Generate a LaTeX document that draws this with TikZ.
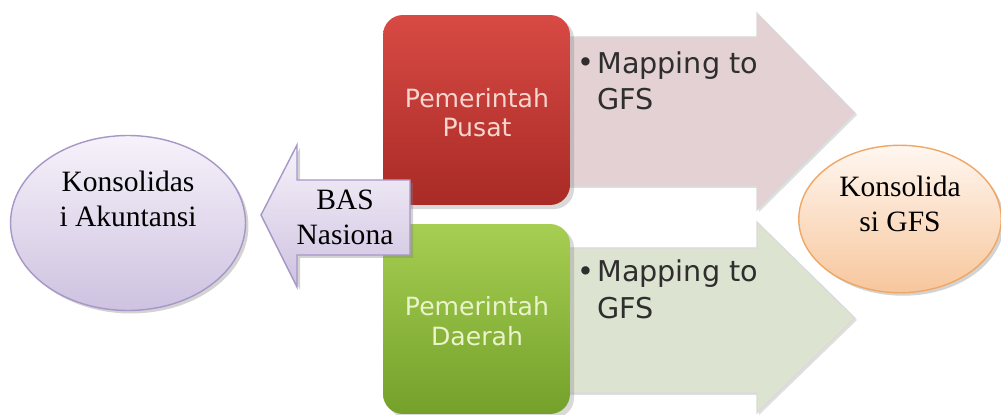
\documentclass[tikz,border=0pt]{standalone}
\usepackage{fontspec}
\setmainfont{Liberation Serif}
\newfontfamily\boxfont{DejaVu Sans}
\usetikzlibrary{positioning, shadows, shapes.geometric}
\definecolor{lavtop}{HTML}{F6F2FA}
\definecolor{lavbot}{HTML}{CEC2E0}
\definecolor{lavline}{HTML}{A797C6}
\definecolor{peachtop}{HTML}{FFF7F0}
\definecolor{peachbot}{HTML}{F7C69C}
\definecolor{peachline}{HTML}{F0A766}
\definecolor{redtop}{HTML}{D84A44}
\definecolor{redbot}{HTML}{A92A26}
\definecolor{redtxt}{HTML}{F6D6CE}
\definecolor{greentop}{HTML}{A6CE52}
\definecolor{greenbot}{HTML}{74A12A}
\definecolor{greentxt}{HTML}{EBF3CB}
\definecolor{pinkarrow}{HTML}{E3D1D3}
\definecolor{sagearrow}{HTML}{DCE3D1}
\definecolor{bulltxt}{HTML}{2E2E2E}

\begin{document}
\begin{tikzpicture}[x=0.02cm, y=-0.02cm,
    oval/.style={ellipse, draw, thick, drop shadow={opacity=0.35, shadow xshift=0.06cm, shadow yshift=-0.06cm}},
    levelbox/.style={rectangle, rounded corners=0.4cm, minimum width=3.74cm, minimum height=3.8cm, drop shadow={opacity=0.3}},
    bigarrow/.style={draw=white!85!black, line width=0.6pt, drop shadow={opacity=0.25, shadow xshift=0.04cm, shadow yshift=-0.04cm}},
    serif/.style={font=\fontsize{16.8}{20}\selectfont, align=center, anchor=base},
    boxtext/.style={font=\boxfont\fontsize{14.3}{17}\selectfont, align=center, anchor=base},
    bultext/.style={font=\boxfont\fontsize{16.3}{21}\selectfont, text=bulltxt, align=left, anchor=base west, inner sep=0pt}]

    \useasboundingbox (0,0) rectangle (1001,415);

    % Big arrows behind the level boxes
    \draw[bigarrow, fill=pinkarrow] (540,37) -- (757,37) -- (757,13) -- (855,113) -- (757,210) -- (757,186) -- (540,186) -- cycle;
    \draw[bigarrow, fill=sagearrow] (540,248) -- (757,248) -- (757,222) -- (855,318) -- (757,413) -- (757,393) -- (540,393) -- cycle;

    % Government levels (text anchored on last line)
    \node[levelbox, top color=redtop, bottom color=redbot] (pusat) at (476.5,110) {};
    \node[boxtext, text=redtxt] (pusattxt) at (477,137) {Pemerintah\\Pusat};

    \node[levelbox, top color=greentop, bottom color=greenbot] (daerah) at (476.5,319) {};
    \node[boxtext, text=greentxt] (daerahtxt) at (477,345) {Pemerintah\\Daerah};

    % Bullet texts on the arrows
    \node[bultext] (pusatbul) at (577,73) {\textbullet};
    \node[bultext] (pusatmap) at (597,110) {Mapping to\\GFS};
    \node[bultext] (daerahbul) at (577,282) {\textbullet};
    \node[bultext] (daerahmap) at (597,318) {Mapping to\\GFS};

    % BAS arrow pointing left
    \draw[draw=lavline, thick, top color=lavtop, bottom color=lavbot, drop shadow={opacity=0.35, shadow xshift=0.06cm, shadow yshift=-0.06cm}]
        (410,180) -- (297,180) -- (297,145) -- (261,215) -- (297,287) -- (297,255) -- (410,255) -- cycle;
    \node[serif] (bas) at (345,245) {BAS\\Nasiona};

    % Consolidation ovals
    \node[oval, draw=lavline, top color=lavtop, bottom color=lavbot, minimum width=4.7cm, minimum height=3.5cm] (akun) at (128,223) {};
    \node[serif] (akuntxt) at (128,227) {Konsolidas\\i Akuntansi};

    \node[oval, draw=peachline, top color=peachtop, bottom color=peachbot, minimum width=4.05cm, minimum height=2.95cm] (gfs) at (900,219) {};
    \node[serif] (gfstxt) at (900,232) {Konsolida\\si GFS};

\end{tikzpicture}
\end{document}
